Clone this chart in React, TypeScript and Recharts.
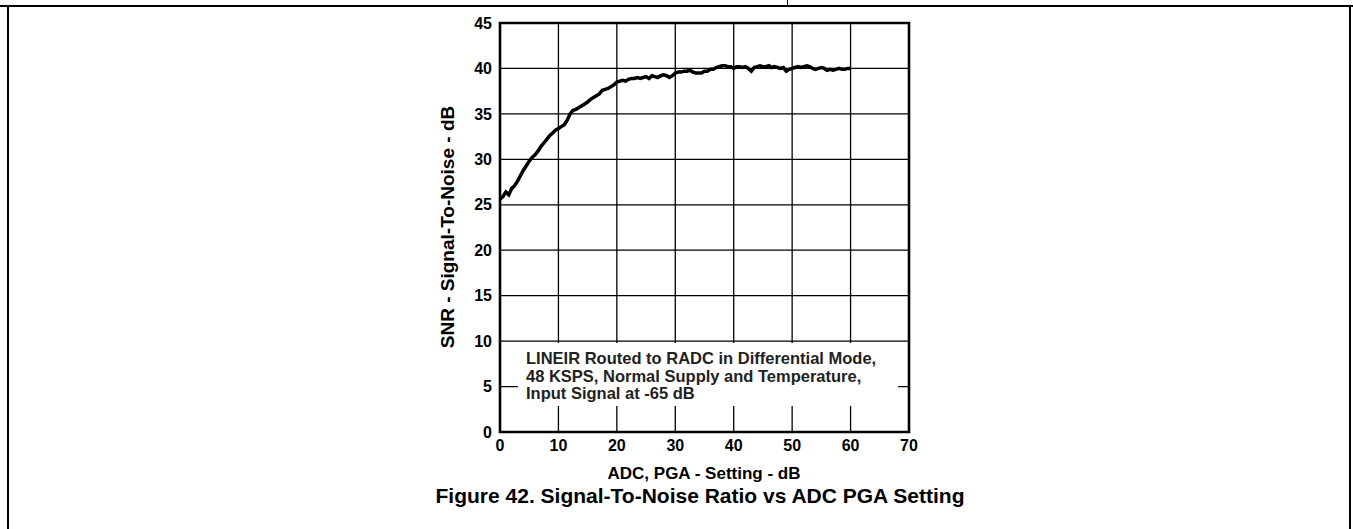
import React from 'react';
import { LineChart, Line, XAxis, YAxis, CartesianGrid, ReferenceArea } from 'recharts';

const pgaSetting = [
  0, 0.5, 1, 1.5, 2, 2.5, 3, 3.5, 4, 4.5, 5, 5.5, 6, 6.5, 7, 7.5, 8, 8.5, 9, 9.5,
  10, 10.5, 11, 11.5, 12, 12.5, 13, 13.5, 14, 14.5, 15, 15.5, 16, 16.5, 17, 17.5, 18, 18.5, 19, 19.5,
  20, 20.5, 21, 21.5, 22, 22.5, 23, 23.5, 24, 24.5, 25, 25.5, 26, 26.5, 27, 27.5, 28, 28.5, 29, 29.5,
  30, 30.5, 31, 31.5, 32, 32.5, 33, 33.5, 34, 34.5, 35, 35.5, 36, 36.5, 37, 37.5, 38, 38.5, 39, 39.5,
  40, 40.5, 41, 41.5, 42, 42.5, 43, 43.5, 44, 44.5, 45, 45.5, 46, 46.5, 47, 47.5, 48, 48.5, 49, 49.5,
  50, 50.5, 51, 51.5, 52, 52.5, 53, 53.5, 54, 54.5, 55, 55.5, 56, 56.5, 57, 57.5, 58, 58.5, 59, 59.5,
  60,
];

const snrDb = [
  25.6, 25.9, 26.4, 26.1, 26.8, 27.1, 27.6, 28.2, 28.8, 29.3, 29.8, 30.2, 30.5, 30.9, 31.4, 31.8, 32.2, 32.6, 32.9, 33.2,
  33.4, 33.6, 33.8, 34.3, 35.0, 35.4, 35.5, 35.7, 35.9, 36.1, 36.3, 36.6, 36.8, 37.0, 37.2, 37.6, 37.7, 37.8, 38.0, 38.2,
  38.5, 38.6, 38.7, 38.6, 38.8, 38.9, 38.9, 39.0, 38.9, 39.0, 39.1, 38.9, 39.2, 39.1, 39.0, 39.2, 39.3, 39.2, 39.0, 39.2,
  39.5, 39.6, 39.6, 39.7, 39.7, 39.8, 39.6, 39.5, 39.5, 39.5, 39.7, 39.7, 39.9, 39.9, 40.1, 40.2, 40.3, 40.3, 40.2, 40.2,
  40.0, 40.2, 40.2, 40.1, 40.2, 40.0, 39.7, 40.1, 40.2, 40.3, 40.2, 40.2, 40.3, 40.1, 40.2, 40.1, 40.0, 40.1, 39.7, 39.9,
  40.0, 40.1, 40.2, 40.1, 40.2, 40.3, 40.2, 40.0, 39.9, 40.0, 40.1, 40.0, 39.8, 39.9, 39.8, 39.9, 40.0, 39.9, 39.9, 40.0,
  40.0,
];

const xTicks = [0, 10, 20, 30, 40, 50, 60, 70];
const yTicks = [0, 5, 10, 15, 20, 25, 30, 35, 40, 45];

const noteLines = [
  'LINEIR Routed to RADC in Differential Mode,',
  '48 KSPS, Normal Supply and Temperature,',
  'Input Signal at -65 dB',
];

const FONT = '"Liberation Sans", Arial, Helvetica, sans-serif';

export default function App() {
  const data = pgaSetting.map((pga, i) => ({ pga, snr: snrDb[i] }));
  const tickStyle = { fill: '#000', fontSize: 16, fontWeight: 700, fontFamily: FONT };

  return (
    <div
      style={{
        position: 'absolute', left: 0, top: 0, width: 1353, height: 529,
        background: '#fff', overflow: 'hidden', fontFamily: FONT, color: '#000',
      }}
    >
      {/* page frame */}
      <div style={{ position: 'absolute', left: 0, top: 5, width: 1353, height: 2, background: '#000' }} />
      <div style={{ position: 'absolute', left: 787, top: 0, width: 1, height: 6, background: '#000' }} />
      <div style={{ position: 'absolute', left: 7, top: 5, width: 2, height: 524, background: '#000' }} />
      <div style={{ position: 'absolute', left: 1349, top: 5, width: 2, height: 524, background: '#000' }} />

      <div style={{ position: 'absolute', left: 0, top: 0 }}>
        <LineChart
          width={1353}
          height={529}
          data={data}
          margin={{ top: 23, right: 444, bottom: 67, left: 440 }}
        >
          <CartesianGrid stroke="#000" strokeWidth={1.3} />
          <XAxis
            type="number"
            dataKey="pga"
            domain={[0, 70]}
            ticks={xTicks}
            height={30}
            tickLine={false}
            axisLine={false}
            tick={tickStyle}
            interval={0}
          />
          <YAxis
            type="number"
            domain={[0, 45]}
            ticks={yTicks}
            width={60}
            tickLine={false}
            axisLine={false}
            tick={tickStyle}
            interval={0}
          />
          <ReferenceArea
            x1={0}
            x2={70}
            y1={0}
            y2={45}
            fill="none"
            stroke="#000"
            strokeWidth={2.6}
            ifOverflow="visible"
          />
          <Line
            type="linear"
            dataKey="snr"
            stroke="#000"
            strokeWidth={3.5}
            dot={false}
            isAnimationActive={false}
          />
        </LineChart>
      </div>

      {/* test conditions note, white box over the grid */}
      <div
        style={{
          position: 'absolute', left: 518, top: 343, width: 380, height: 63,
          background: '#fff', boxSizing: 'border-box', padding: '7px 0 0 8px',
          fontSize: 16.5, fontWeight: 700, lineHeight: '17.5px', whiteSpace: 'nowrap',
          color: '#222',
        }}
      >
        {noteLines.map((t) => (
          <div key={t}>{t}</div>
        ))}
      </div>

      {/* axis titles */}
      <div
        style={{
          position: 'absolute', left: 704, top: 474, transform: 'translate(-50%, -50%)',
          fontSize: 17, fontWeight: 700, whiteSpace: 'nowrap',
        }}
      >
        ADC, PGA - Setting - dB
      </div>
      <div
        style={{
          position: 'absolute', left: 448, top: 227, transform: 'translate(-50%, -50%) rotate(-90deg)',
          fontSize: 19, fontWeight: 700, whiteSpace: 'nowrap',
        }}
      >
        SNR - Signal-To-Noise - dB
      </div>

      {/* figure caption */}
      <div
        style={{
          position: 'absolute', left: 700, top: 496, transform: 'translate(-50%, -50%)',
          fontSize: 21, fontWeight: 700, whiteSpace: 'nowrap',
        }}
      >
        Figure 42. Signal-To-Noise Ratio vs ADC PGA Setting
      </div>
    </div>
  );
}
